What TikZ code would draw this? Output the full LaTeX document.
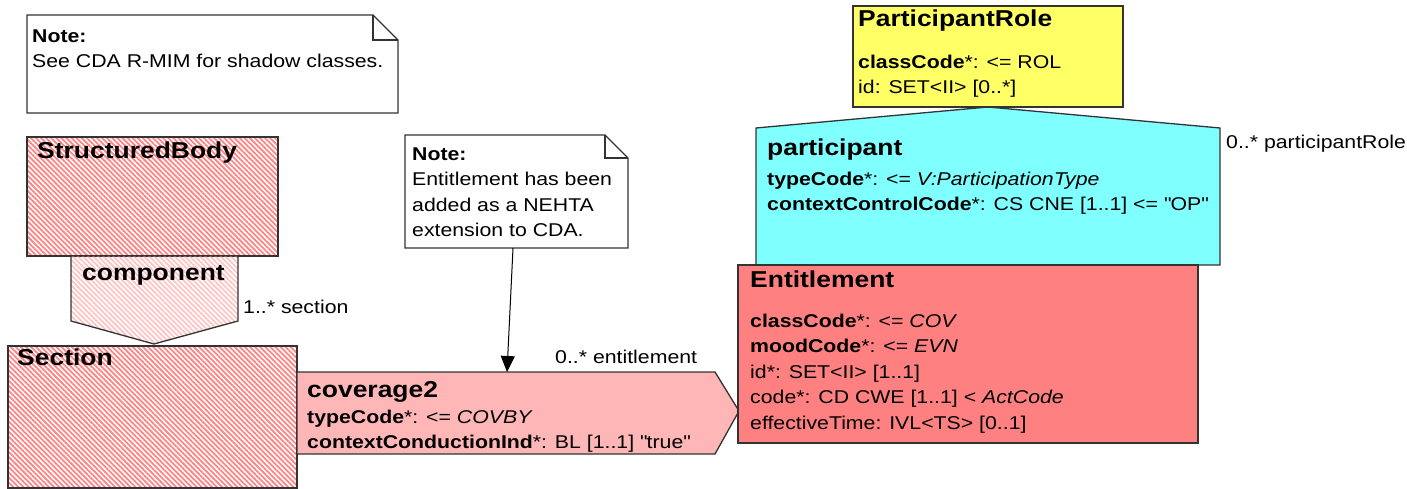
\documentclass[tikz,border=0pt]{standalone}
\usepackage{fontspec}
\setmainfont{Liberation Sans}[FakeStretch=1.15]
\usetikzlibrary{arrows.meta, patterns.meta, positioning}
\definecolor{hatchred}{HTML}{FF8484}
\definecolor{hatchpink}{HTML}{FFC4C4}
\definecolor{actred}{HTML}{FF8080}
\definecolor{partpink}{HTML}{FFB6B6}
\definecolor{roleyellow}{HTML}{FFFF66}
\definecolor{partcyan}{HTML}{80FFFF}
\definecolor{edgegray}{HTML}{333333}
\newcommand{\ttlfont}{\fontsize{23}{27}\selectfont\bfseries}
\newcommand{\attfont}{\fontsize{18.5}{25.5}\selectfont}
\newcommand{\attname}[1]{\textbf{#1}*}
\newcommand{\qt}[1]{\textquotedbl#1\textquotedbl}

\tikzset{
  shapeline/.style={draw=edgegray, line width=1.3pt, line join=miter},
  notebox/.style={draw=edgegray, line width=1.1pt, fill=white},
  hatchbig/.style={shapeline, pattern={Lines[angle=-45, distance=3.6pt, line width=1.8pt]}, pattern color=hatchred},
  hatchsmall/.style={shapeline, pattern={Lines[angle=-45, distance=3.6pt, line width=1.8pt]}, pattern color=hatchpink},
  txt/.style={anchor=north west, inner sep=0pt, align=left, font=\attfont},
  ttl/.style={anchor=west, inner sep=0pt, font=\ttlfont},
  rolename/.style={anchor=west, inner sep=0pt, font=\attfont},
}

\begin{document}
\begin{tikzpicture}[x=1pt, y=-1pt]
  \useasboundingbox (0,0) rectangle (1407,489);

  % Note shadow classes
  \draw[notebox] (27,15) -- (373,15) -- (398,40) -- (398,113) -- (27,113) -- cycle;
  \draw[notebox, fill=none] (373,15) -- (373,40) -- (398,40);
  \node[txt] (noteshadow) at (32,24) {\strut\textbf{Note:}\\See CDA R-MIM for shadow classes.};

  % StructuredBody
  \draw[hatchbig] (27,137) rectangle (278,256);
  \node[ttl] (sbodyname) at (37,153) {StructuredBody};

  % component
  \draw[hatchsmall] (71,256) -- (238,256) -- (238,321) -- (154,344) -- (71,321) -- cycle;
  \node[ttl] (compname) at (82,275) {component};
  \node[rolename] (secrole) at (243,307) {1..* section};

  % Section
  \draw[hatchbig] (8,346) rectangle (297,488);
  \node[ttl] (sectionname) at (17,357) {Section};

  % coverage2
  \draw[shapeline, fill=partpink] (297,372) -- (715,372) -- (739,411) -- (715,454) -- (297,454) -- cycle;
  \node[ttl] (covname) at (307,392) {coverage2};
  \node[txt] (covattr) at (307,405) {\strut\attname{typeCode}: <= \textit{COVBY}\\
    \attname{contextConductionInd}: BL [1..1] \qt{true}};
  \node[rolename] (entrole) at (555,357) {0..* entitlement};

  % Note NEHTA
  \draw[notebox] (405,135) -- (605,135) -- (628,158) -- (628,248) -- (405,248) -- cycle;
  \draw[notebox, fill=none] (605,135) -- (605,158) -- (628,158);
  \node[txt] (notenehta) at (412,142) {\strut\textbf{Note:}\\Entitlement has been\\added as a NEHTA\\extension to CDA.};
  \coordinate (notefoot) at (513,248);
  \coordinate (covtop) at (507,372);
  \draw[line width=1pt, black, -{Triangle[length=16pt, width=14pt]}] (notefoot) -- (covtop);

  % participant
  \draw[shapeline, fill=partcyan] (756,265) -- (756,128) -- (988,107) -- (1220,128) -- (1220,265) -- cycle;
  \node[ttl] (partname) at (767,150) {participant};
  \node[txt] (partattr) at (767,167) {\strut\attname{typeCode}: <= \textit{V:ParticipationType}\\
    \attname{contextControlCode}: CS CNE [1..1] <= \qt{OP}};
  \node[rolename] (prole) at (1226,144) {0..* participantRole};

  % ParticipantRole
  \draw[shapeline, fill=roleyellow] (853,6) rectangle (1123,107);
  \node[ttl] (rolename) at (858,21) {ParticipantRole};
  \node[txt] (roleattr) at (858,50) {\strut\attname{classCode}: <= ROL\\id: SET<II> [0..*]};

  % Entitlement
  \draw[shapeline, fill=actred] (738,265) rectangle (1198,443);
  \node[ttl] (entname) at (750,279) {Entitlement};
  \node[txt] (entattr) at (750,309) {\strut\attname{classCode}: <= \textit{COV}\\
    \attname{moodCode}: <= \textit{EVN}\\
    id*: SET<II> [1..1]\\
    code*: CD CWE [1..1] < \textit{ActCode}\\
    effectiveTime: IVL<TS> [0..1]};
\end{tikzpicture}
\end{document}
